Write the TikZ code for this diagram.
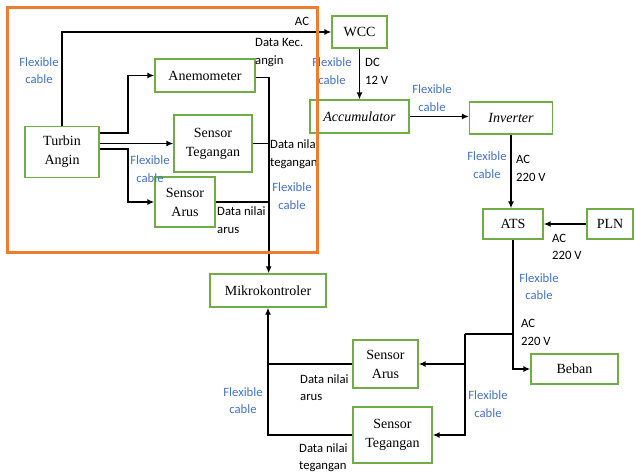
\documentclass[tikz,border=0pt]{standalone}
\usepackage{fontspec}
\setmainfont{Liberation Serif}
\newfontfamily\lblfamily{Carlito}
\usepackage{xcolor}
\usepackage{tikz}
\usetikzlibrary{arrows.meta,positioning,calc}

\definecolor{boxgreen}{HTML}{70AD47}
\definecolor{frameorange}{HTML}{ED7D31}
\definecolor{cableblue}{HTML}{4472C4}
\newcommand{\boxfont}{\fontsize{14}{19}\selectfont}
\newcommand{\lblfont}{\lblfamily\fontsize{12.7}{17.5}\selectfont}

\begin{document}
\begin{tikzpicture}[
  x=1pt,y=-1pt,
  every node/.style={align=center},
  flowbox/.style={draw=boxgreen,line width=1.3pt,fill=white,font=\boxfont,inner sep=2pt},
  lbl/.style={font=\lblfont,inner sep=0pt},
  cable/.style={lbl,text=cableblue},
  arrow/.style={-{Latex[length=7pt,width=6pt]},line width=1.8pt},
  wire/.style={line width=1.8pt}
]
\useasboundingbox (0,0) rectangle (636,473);

% blok turbin dan sensor
\node[flowbox,minimum width=74pt,minimum height=51pt] (turbin) at (62,152) {Turbin\\Angin};
\node[flowbox,minimum width=100pt,minimum height=33pt] (anemo) at (205,75.5) {Anemometer};
\node[flowbox,minimum width=78pt,minimum height=57pt] (tegA) at (213,143.5) {Sensor\\Tegangan};
\node[flowbox,minimum width=60pt,minimum height=50pt] (arusA) at (185,202) {Sensor\\Arus};

% jalur daya
\node[flowbox,minimum width=55pt,minimum height=32pt] (wcc) at (359.5,32) {WCC};
\node[flowbox,minimum width=99pt,minimum height=33pt] (accu) at (359.5,116.5) {\itshape Accumulator};
\node[flowbox,minimum width=83pt,minimum height=32pt] (inv) at (511,118) {\itshape Inverter};
\node[flowbox,minimum width=60pt,minimum height=30pt] (ats) at (513,224) {ATS};
\node[flowbox,minimum width=46pt,minimum height=30pt] (pln) at (610,224) {PLN};
\node[flowbox,minimum width=87pt,minimum height=30pt] (beban) at (574.5,369) {Beban};

% kontroler dan sensor beban
\node[flowbox,minimum width=116pt,minimum height=33pt] (mikro) at (268,290.5) {Mikrokontroler};
\node[flowbox,minimum width=65pt,minimum height=48pt] (arusB) at (385.5,364) {Sensor\\Arus};
\node[flowbox,minimum width=79pt,minimum height=56pt] (tegB) at (392.5,435) {Sensor\\Tegangan};

% koneksi turbin
\draw[arrow] (turbin.north) |- (wcc.west);
\draw[arrow] ([yshift=19pt]turbin.east) -- ++(28,0) |- (anemo.west);
\draw[arrow] (turbin.east |- tegA.west) -- (tegA.west);
\draw[arrow] ([yshift=3pt]turbin.east) -- ++(28,0) |- (arusA.west);

% data sensor ke mikrokontroler
\draw[arrow] ([yshift=-2pt]anemo.east) -- ++(13,0) coordinate (bus) -- (bus |- mikro.north);
\draw[wire] (tegA.east) -- (tegA.east -| bus);
\draw[wire] (arusA.east) -- (arusA.east -| bus);

% jalur daya
\draw[arrow] (wcc.south) -- (accu.north);
\draw[arrow] (accu.east) -- (accu.east -| inv.west);
\draw[arrow] (inv.south) -- (inv.south |- ats.north);
\draw[arrow] (pln.west) -- (ats.east);
\draw[arrow] (ats.south) |- (beban.west);

% cabang ke sensor beban
\coordinate (tap) at (465,334);
\draw[wire] (ats.south |- tap) -- (tap);
\draw[arrow] (tap) |- (tegB.east);
\draw[arrow] (tap |- arusB.east) -- (arusB.east);
\draw[wire] (arusB.west) -- (arusB.west -| mikro.south);
\draw[arrow] (tegB.west) -| (mikro.south);

% label
\node[lbl] (lAC) at (302,21) {AC};
\node[lbl,anchor=west,align=left] (lkec) at (255,52.5) {Data Kec.\\angin};
\node[cable] (c1) at (39,70.5) {Flexible\\cable};
\node[cable] (c2) at (150,169) {Flexible\\cable};
\begin{scope}
\clip (0,0) rectangle (317,473);
\node[lbl,anchor=west,align=left] (lteg) at (270,154) {Data nilai\\tegangan};
\end{scope}
\node[lbl,anchor=west,align=left] (larus) at (217,220) {Data nilai\\arus};
\node[cable] (c3) at (292,196) {Flexible\\cable};
\node[cable] (c4) at (332,71) {Flexible\\cable};
\node[lbl,anchor=west,align=left] (ldc) at (365,71.5) {DC\\12 V};
\node[cable] (c5) at (432,98) {Flexible\\cable};
\node[cable] (c6) at (487,165) {Flexible\\cable};
\node[lbl,anchor=west,align=left] (lac1) at (516,168.5) {AC\\220 V};
\node[lbl,anchor=west,align=left] (lac2) at (552,247) {AC\\220 V};
\node[cable] (c7) at (539,286.5) {Flexible\\cable};
\node[lbl,anchor=west,align=left] (lac3) at (521,332.5) {AC\\220 V};
\node[cable] (c8) at (488,404) {Flexible\\cable};
\node[lbl,anchor=west,align=left] (lar2) at (300,387.5) {Data nilai\\arus};
\node[lbl,anchor=west,align=left] (lte2) at (299,457.5) {Data nilai\\tegangan};
\node[cable] (c9) at (243,400.5) {Flexible\\cable};

% bingkai turbin
\draw[frameorange,line width=3pt] (7,8) rectangle (317,252);
\end{tikzpicture}
\end{document}
